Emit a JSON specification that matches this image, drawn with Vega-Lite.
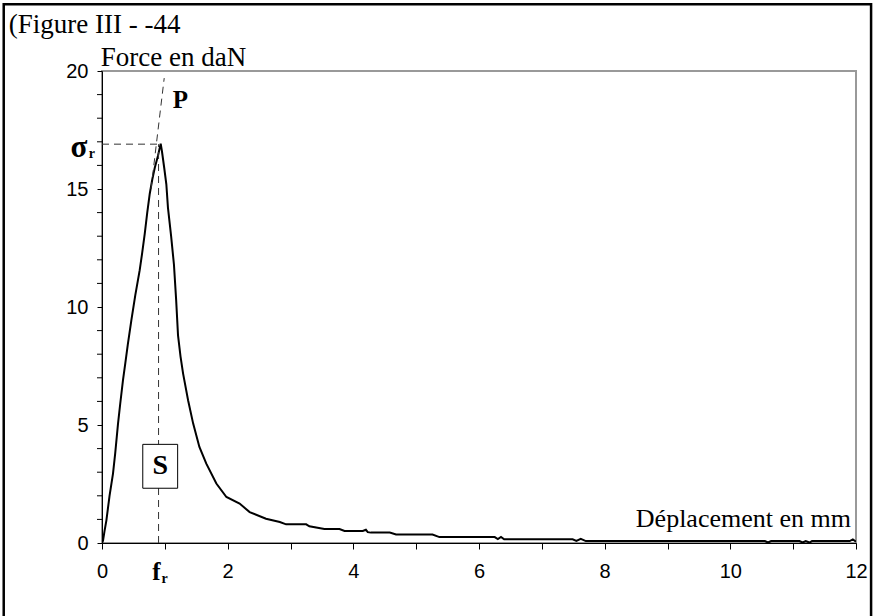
{
  "$schema": "https://vega.github.io/schema/vega-lite/v6.json",
  "width": 754,
  "height": 472,
  "autosize": {"type": "none"},
  "padding": {"left": 102, "top": 71, "right": 19, "bottom": 73},
  "background": "white",
  "config": {
    "view": {"stroke": "#999999", "strokeWidth": 2},
    "axis": {"grid": false, "domainColor": "black", "tickColor": "black", "labelColor": "black", "labelFont": "Liberation Sans", "labelFontSize": 20, "title": null, "labelOverlap": false, "labelFlush": false, "format": "d"},
    "axisX": {"tickSize": 6, "labelPadding": 12, "labelExpr": "datum.value % 2 === 0 ? datum.label : ''"},
    "axisY": {"tickSize": 5, "labelPadding": 9}
  },
  "datasets": {
    "curve": [
      {"d": 0, "f": 0}, {"d": 0.016, "f": 0.1}, {"d": 0.04, "f": 0.5}, {"d": 0.07, "f": 0.96},
      {"d": 0.12, "f": 2.0}, {"d": 0.175, "f": 2.94}, {"d": 0.21, "f": 3.8}, {"d": 0.255, "f": 5.06},
      {"d": 0.29, "f": 5.9}, {"d": 0.334, "f": 6.9}, {"d": 0.37, "f": 7.6}, {"d": 0.41, "f": 8.4},
      {"d": 0.467, "f": 9.43}, {"d": 0.53, "f": 10.5}, {"d": 0.6, "f": 11.56}, {"d": 0.64, "f": 12.3},
      {"d": 0.68, "f": 13.1}, {"d": 0.72, "f": 14.0}, {"d": 0.76, "f": 14.8}, {"d": 0.8, "f": 15.4},
      {"d": 0.84, "f": 15.9}, {"d": 0.89, "f": 16.4}, {"d": 0.934, "f": 16.92}, {"d": 0.954, "f": 16.6},
      {"d": 0.99, "f": 15.9}, {"d": 1.024, "f": 15.2}, {"d": 1.05, "f": 14.2}, {"d": 1.1, "f": 13.0},
      {"d": 1.145, "f": 11.8}, {"d": 1.18, "f": 10.3}, {"d": 1.21, "f": 8.8}, {"d": 1.25, "f": 7.9},
      {"d": 1.29, "f": 7.19}, {"d": 1.37, "f": 6.05}, {"d": 1.45, "f": 5.07}, {"d": 1.55, "f": 4.07},
      {"d": 1.66, "f": 3.36}, {"d": 1.82, "f": 2.52}, {"d": 1.98, "f": 1.95}, {"d": 2.19, "f": 1.67},
      {"d": 2.35, "f": 1.31}, {"d": 2.61, "f": 1.03}, {"d": 2.83, "f": 0.89}, {"d": 2.93, "f": 0.79},
      {"d": 3.25, "f": 0.79}, {"d": 3.3, "f": 0.71}, {"d": 3.54, "f": 0.59}, {"d": 3.78, "f": 0.59},
      {"d": 3.86, "f": 0.51}, {"d": 4.15, "f": 0.51}, {"d": 4.2, "f": 0.56}, {"d": 4.23, "f": 0.46},
      {"d": 4.28, "f": 0.44}, {"d": 4.58, "f": 0.44}, {"d": 4.68, "f": 0.36}, {"d": 5.26, "f": 0.36},
      {"d": 5.37, "f": 0.25}, {"d": 6.25, "f": 0.25}, {"d": 6.3, "f": 0.17}, {"d": 6.35, "f": 0.26},
      {"d": 6.4, "f": 0.16}, {"d": 7.49, "f": 0.16}, {"d": 7.55, "f": 0.09}, {"d": 7.62, "f": 0.18},
      {"d": 7.7, "f": 0.08}, {"d": 10.55, "f": 0.08}, {"d": 10.6, "f": 0.02}, {"d": 10.65, "f": 0.08},
      {"d": 11.1, "f": 0.08}, {"d": 11.15, "f": 0.02}, {"d": 11.2, "f": 0.08}, {"d": 11.26, "f": 0.02},
      {"d": 11.3, "f": 0.08}, {"d": 11.9, "f": 0.08}, {"d": 11.95, "f": 0.15}, {"d": 12.0, "f": 0.06}
    ],
    "yticks": [
      {"v": 1}, {"v": 2}, {"v": 3}, {"v": 4}, {"v": 6}, {"v": 7}, {"v": 8}, {"v": 9},
      {"v": 11}, {"v": 12}, {"v": 13}, {"v": 14}, {"v": 16}, {"v": 17}, {"v": 18}, {"v": 19}
    ],
    "frame": [{"x": -1.564, "x2": 12.24, "y": 22.83, "y2": -3.4}],
    "dashes": [
      {"x": 0, "x2": 0.9, "y": 16.9, "y2": 16.9},
      {"x": 0.9, "x2": 0.9, "y": 0, "y2": 16.9},
      {"x": 0.78, "x2": 0.99, "y": 15.0, "y2": 19.7}
    ],
    "sbox": [{"x": 0.649, "x2": 1.204, "y": 4.18, "y2": 2.32}],
    "plainText": [
      {"t": "(Figure III - -44", "x": -1.484, "y": 21.6},
      {"t": "Force en daN", "x": -0.02, "y": 20.2}
    ],
    "rightText": [{"t": "Déplacement en mm", "x": 11.92, "y": 0.66}],
    "boldText": [{"t": "P", "x": 1.125, "y": 18.42}],
    "sigma": [{"t": "σ", "x": -0.5, "y": 16.34}],
    "sText": [{"t": "S", "x": 0.926, "y": 3.25}],
    "fText": [{"t": "f", "x": 0.8, "y": -1.58}],
    "subText": [{"t": "r", "x": -0.21, "y": 16.3}, {"t": "r", "x": 0.945, "y": -1.71}]
  },
  "layer": [
    {
      "data": {"name": "curve"},
      "mark": {"type": "line", "color": "black", "strokeWidth": 2, "clip": true},
      "encoding": {
        "x": {"field": "d", "type": "quantitative", "scale": {"domain": [0, 12], "nice": false, "zero": false},
          "axis": {"values": [0,1,2,3,4,5,6,7,8,9,10,11,12]}},
        "y": {"field": "f", "type": "quantitative", "scale": {"domain": [0, 20], "nice": false, "zero": false},
          "axis": {"values": [0,5,10,15,20]}}
      }
    },
    {
      "data": {"name": "yticks"},
      "mark": {"type": "tick", "orient": "horizontal", "size": 5, "thickness": 1, "color": "black", "xOffset": -2.5, "opacity": 1, "clip": false},
      "encoding": {
        "x": {"datum": 0, "type": "quantitative"},
        "y": {"field": "v", "type": "quantitative"}
      }
    },
    {
      "data": {"name": "frame"},
      "mark": {"type": "rect", "fill": null, "filled": false, "stroke": "black", "strokeWidth": 2.5, "clip": false},
      "encoding": {
        "x": {"field": "x", "type": "quantitative"},
        "x2": {"field": "x2"},
        "y": {"field": "y", "type": "quantitative"},
        "y2": {"field": "y2"}
      }
    },
    {
      "data": {"name": "dashes"},
      "mark": {"type": "rule", "color": "#333333", "strokeWidth": 1, "strokeDash": [7, 5]},
      "encoding": {
        "x": {"field": "x", "type": "quantitative"},
        "x2": {"field": "x2"},
        "y": {"field": "y", "type": "quantitative"},
        "y2": {"field": "y2"}
      }
    },
    {
      "data": {"name": "sbox"},
      "mark": {"type": "rect", "fill": "white", "stroke": "black", "strokeWidth": 1},
      "encoding": {
        "x": {"field": "x", "type": "quantitative"},
        "x2": {"field": "x2"},
        "y": {"field": "y", "type": "quantitative"},
        "y2": {"field": "y2"}
      }
    },
    {
      "data": {"name": "plainText"},
      "mark": {"type": "text", "font": "Liberation Serif", "fontSize": 27, "align": "left", "baseline": "alphabetic", "color": "black"},
      "encoding": {
        "x": {"field": "x", "type": "quantitative"},
        "y": {"field": "y", "type": "quantitative"},
        "text": {"field": "t"}
      }
    },
    {
      "data": {"name": "rightText"},
      "mark": {"type": "text", "font": "Liberation Serif", "fontSize": 26, "align": "right", "baseline": "alphabetic", "color": "black"},
      "encoding": {
        "x": {"field": "x", "type": "quantitative"},
        "y": {"field": "y", "type": "quantitative"},
        "text": {"field": "t"}
      }
    },
    {
      "data": {"name": "boldText"},
      "mark": {"type": "text", "font": "Liberation Serif", "fontSize": 25, "fontWeight": "bold", "align": "left", "baseline": "alphabetic", "color": "black"},
      "encoding": {
        "x": {"field": "x", "type": "quantitative"},
        "y": {"field": "y", "type": "quantitative"},
        "text": {"field": "t"}
      }
    },
    {
      "data": {"name": "sigma"},
      "mark": {"type": "text", "font": "Liberation Serif", "fontSize": 31, "fontWeight": "bold", "align": "left", "baseline": "alphabetic", "color": "black"},
      "encoding": {
        "x": {"field": "x", "type": "quantitative"},
        "y": {"field": "y", "type": "quantitative"},
        "text": {"field": "t"}
      }
    },
    {
      "data": {"name": "sText"},
      "mark": {"type": "text", "font": "Liberation Serif", "fontSize": 28, "fontWeight": "bold", "align": "center", "baseline": "middle", "color": "black"},
      "encoding": {
        "x": {"field": "x", "type": "quantitative"},
        "y": {"field": "y", "type": "quantitative"},
        "text": {"field": "t"}
      }
    },
    {
      "data": {"name": "fText"},
      "mark": {"type": "text", "font": "Liberation Serif", "fontSize": 25, "fontWeight": "bold", "align": "left", "baseline": "alphabetic", "color": "black"},
      "encoding": {
        "x": {"field": "x", "type": "quantitative"},
        "y": {"field": "y", "type": "quantitative"},
        "text": {"field": "t"}
      }
    },
    {
      "data": {"name": "subText"},
      "mark": {"type": "text", "font": "Liberation Serif", "fontSize": 14, "fontWeight": "bold", "align": "left", "baseline": "alphabetic", "color": "black"},
      "encoding": {
        "x": {"field": "x", "type": "quantitative"},
        "y": {"field": "y", "type": "quantitative"},
        "text": {"field": "t"}
      }
    }
  ]
}
